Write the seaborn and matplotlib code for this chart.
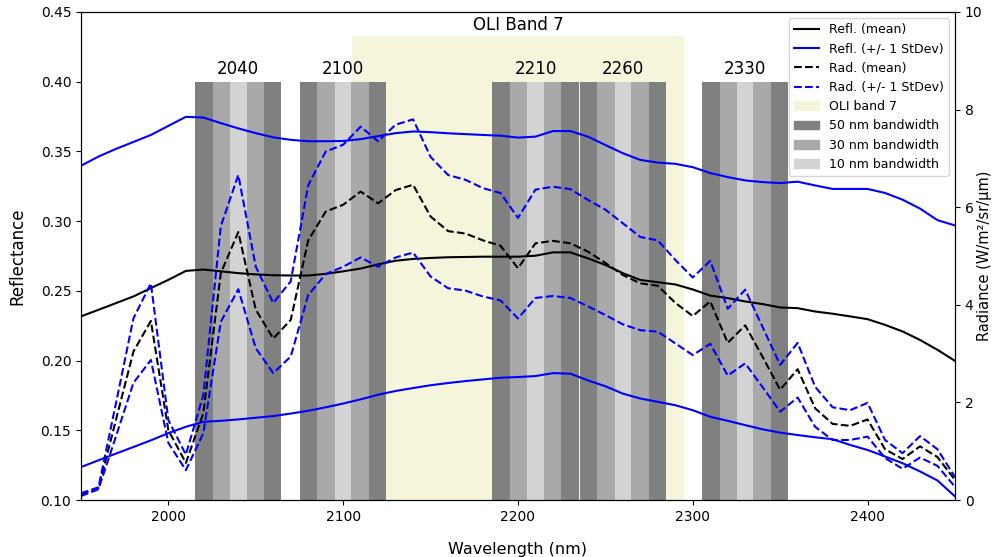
import matplotlib
matplotlib.use("Agg")
import matplotlib.pyplot as plt
import matplotlib.patches as mpatches
from matplotlib.lines import Line2D
import numpy as np
import pandas as pd
import seaborn as sns

wavelength = [1950, 1960, 1970, 1980, 1990, 2000, 2010, 2020, 2030, 2040,
              2050, 2060, 2070, 2080, 2090, 2100, 2110, 2120, 2130, 2140,
              2150, 2160, 2170, 2180, 2190, 2200, 2210, 2220, 2230, 2240,
              2250, 2260, 2270, 2280, 2290, 2300, 2310, 2320, 2330, 2340,
              2350, 2360, 2370, 2380, 2390, 2400, 2410, 2420, 2430, 2440, 2450]

refl_mean = [0.2317, 0.2364, 0.2412, 0.2460, 0.2520, 0.2579, 0.2643, 0.2653, 0.2640, 0.2627,
             0.2618, 0.2612, 0.2610, 0.2610, 0.2622, 0.2640, 0.2660, 0.2690, 0.2716, 0.2729,
             0.2736, 0.2741, 0.2743, 0.2745, 0.2745, 0.2745, 0.2752, 0.2776, 0.2776, 0.2733,
             0.2686, 0.2627, 0.2578, 0.2562, 0.2546, 0.2510, 0.2466, 0.2448, 0.2424, 0.2405,
             0.2381, 0.2376, 0.2352, 0.2336, 0.2317, 0.2297, 0.2256, 0.2209, 0.2148, 0.2077, 0.1998]

refl_upper = [0.3397, 0.3463, 0.3518, 0.3568, 0.3618, 0.3683, 0.3748, 0.3743, 0.3703, 0.3665,
              0.3631, 0.3601, 0.3583, 0.3573, 0.3573, 0.3575, 0.3588, 0.3610, 0.3631, 0.3643,
              0.3638, 0.3630, 0.3624, 0.3618, 0.3613, 0.3599, 0.3606, 0.3646, 0.3646, 0.3606,
              0.3546, 0.3487, 0.3439, 0.3420, 0.3411, 0.3387, 0.3345, 0.3316, 0.3292, 0.3280,
              0.3273, 0.3283, 0.3256, 0.3231, 0.3231, 0.3231, 0.3202, 0.3154, 0.3090, 0.3007, 0.2969]

refl_lower = [0.1236, 0.1285, 0.1333, 0.1380, 0.1428, 0.1480, 0.1525, 0.1561, 0.1568, 0.1578,
              0.1590, 0.1602, 0.1620, 0.1640, 0.1665, 0.1692, 0.1722, 0.1755, 0.1782, 0.1803,
              0.1823, 0.1839, 0.1853, 0.1865, 0.1877, 0.1882, 0.1889, 0.1910, 0.1906, 0.1858,
              0.1816, 0.1763, 0.1728, 0.1704, 0.1680, 0.1644, 0.1597, 0.1568, 0.1537, 0.1507,
              0.1483, 0.1466, 0.1450, 0.1436, 0.1395, 0.1359, 0.1312, 0.1264, 0.1205, 0.1140, 0.1026]

rad_mean = [0.12, 0.24, 1.64, 3.04, 3.67, 1.43, 0.76, 1.78, 4.65, 5.49,
            3.90, 3.31, 3.69, 5.32, 5.91, 6.05, 6.32, 6.08, 6.35, 6.46,
            5.81, 5.51, 5.46, 5.32, 5.21, 4.75, 5.26, 5.31, 5.26, 5.09,
            4.86, 4.61, 4.44, 4.39, 4.04, 3.77, 4.07, 3.22, 3.58, 2.93,
            2.26, 2.68, 1.88, 1.56, 1.52, 1.65, 1.04, 0.84, 1.10, 0.88, 0.41]

rad_upper = [0.14, 0.26, 1.98, 3.72, 4.44, 1.64, 0.93, 2.15, 5.61, 6.66,
             4.78, 4.04, 4.48, 6.45, 7.14, 7.28, 7.65, 7.35, 7.69, 7.80,
             7.03, 6.66, 6.56, 6.39, 6.29, 5.78, 6.36, 6.42, 6.37, 6.15,
             5.95, 5.67, 5.39, 5.32, 4.92, 4.56, 4.90, 3.92, 4.31, 3.54,
             2.77, 3.22, 2.32, 1.90, 1.84, 1.99, 1.23, 0.96, 1.31, 1.04, 0.47]

rad_lower = [0.08, 0.22, 1.30, 2.40, 2.87, 1.17, 0.61, 1.37, 3.65, 4.32,
             3.11, 2.60, 2.94, 4.20, 4.63, 4.78, 4.97, 4.78, 4.97, 5.07,
             4.58, 4.34, 4.29, 4.17, 4.09, 3.72, 4.14, 4.18, 4.14, 3.97,
             3.79, 3.60, 3.48, 3.45, 3.21, 2.97, 3.20, 2.55, 2.80, 2.31,
             1.81, 2.10, 1.50, 1.23, 1.23, 1.30, 0.86, 0.64, 0.87, 0.70, 0.27]

band_centers = [2040, 2100, 2210, 2260, 2330]
band_labels = ["2040", "2100", "2210", "2260", "2330"]
bandwidths = [50, 30, 10]
bandwidth_colors = ["gray", "darkgray", "lightgray"]
oli_range = [2105, 2295]

df = pd.DataFrame({
    "wl": wavelength,
    "refl_mean": refl_mean, "refl_upper": refl_upper, "refl_lower": refl_lower,
    "rad_mean": rad_mean, "rad_upper": rad_upper, "rad_lower": rad_lower,
})

fig = plt.figure(figsize=(9.96, 5.57), dpi=100)
ax = fig.add_axes([0.0813, 0.1023, 0.9588 - 0.0813, 0.9785 - 0.1023])

# OLI band 7
ax.fill_between(oli_range, 0.10, 0.433, color="beige", zorder=0, linewidth=0)
ax.text(np.mean(oli_range), 0.4345, "OLI Band 7", ha="center", va="bottom", fontsize=12)

# bandwidth bars
for bw, col in zip(bandwidths, bandwidth_colors):
    for c in band_centers:
        ax.axvspan(c - bw / 2 + 0.3, c + bw / 2 - 0.3, ymin=0, ymax=(0.40 - 0.10) / 0.35,
                   color=col, zorder=1, linewidth=0)
for c, lab in zip(band_centers, band_labels):
    ax.text(c, 0.4025, lab, ha="center", va="bottom", fontsize=12)

sns.lineplot(data=df, x="wl", y="refl_mean", ax=ax, color="black", linewidth=1.5, zorder=3)
sns.lineplot(data=df, x="wl", y="refl_upper", ax=ax, color="blue", linewidth=1.5, zorder=3)
sns.lineplot(data=df, x="wl", y="refl_lower", ax=ax, color="blue", linewidth=1.5, zorder=3)

ax.set_xlim(1950, 2450)
ax.set_ylim(0.10, 0.45)
ax.set_yticks(np.arange(0.10, 0.451, 0.05))
ax.set_yticklabels([f"{v:.2f}" for v in np.arange(0.10, 0.451, 0.05)])
ax.set_xticks([2000, 2100, 2200, 2300, 2400])
ax.set_xlabel("Wavelength (nm)", fontsize=11.5, labelpad=13)
ax.set_ylabel("Reflectance", fontsize=12, labelpad=10)

ax2 = ax.twinx()
sns.lineplot(data=df, x="wl", y="rad_mean", ax=ax2, color="black", linestyle="--", linewidth=1.5)
sns.lineplot(data=df, x="wl", y="rad_upper", ax=ax2, color="blue", linestyle="--", linewidth=1.5)
sns.lineplot(data=df, x="wl", y="rad_lower", ax=ax2, color="blue", linestyle="--", linewidth=1.5)
ax2.set_ylim(0, 10)
ax2.set_yticks([0, 2, 4, 6, 8, 10])
ax2.set_ylabel("Radiance (W/m²/sr/µm)", fontsize=10.5, va="center", rotation=90)
ax2.yaxis.set_label_coords(1.034, 0.5)
ax2.set_xlim(1950, 2450)
ax2.set_xlabel("")

handles = [
    Line2D([], [], color="black", linewidth=1.5),
    Line2D([], [], color="blue", linewidth=1.5),
    Line2D([], [], color="black", linestyle="--", linewidth=1.5),
    Line2D([], [], color="blue", linestyle="--", linewidth=1.5),
    mpatches.Patch(color="beige"),
    mpatches.Patch(color="gray"),
    mpatches.Patch(color="darkgray"),
    mpatches.Patch(color="lightgray"),
]
labels = ["Refl. (mean)", "Refl. (+/- 1 StDev)", "Rad. (mean)", "Rad. (+/- 1 StDev)",
          "OLI band 7", "50 nm bandwidth", "30 nm bandwidth", "10 nm bandwidth"]
ax2.legend(handles, labels, loc="upper right", fontsize=9)

fig.savefig("out.png", dpi=100)
